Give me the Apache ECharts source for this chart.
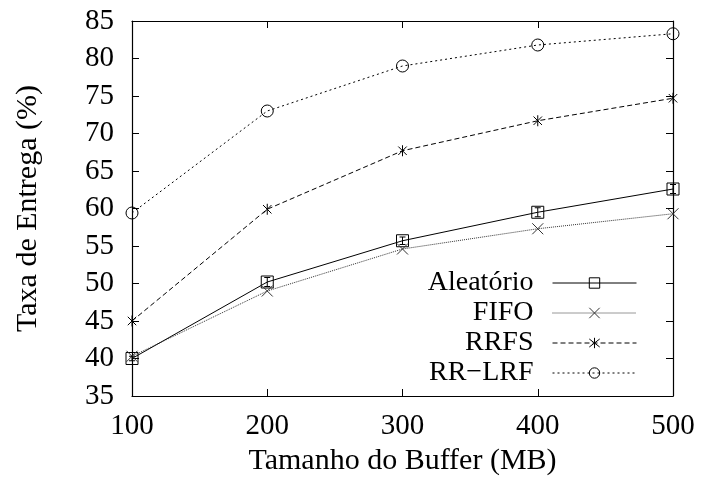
<!DOCTYPE html>
<html>
<head>
<meta charset="utf-8">
<script src="https://cdn.jsdelivr.net/npm/echarts@6/dist/echarts.min.js"></script>
<style>
  html, body { margin: 0; padding: 0; background: #fff; }
  #chart { width: 702px; height: 488px; }
</style>
</head>
<body>
<div id="chart"></div>
<script>
// Buffer sizes (MB)
const bufferSizes = [100, 200, 300, 400, 500];
// Delivery rate (%) per policy
const aleatorio = [40.0, 50.2, 55.7, 59.5, 62.6];
const aleatorioErr = [0.3, 0.6, 0.5, 0.6, 0.6];
const fifo = [40.3, 49.0, 54.6, 57.3, 59.3];
const rrfs = [45.0, 59.9, 67.7, 71.7, 74.7];
const rrlrf = [59.4, 73.0, 79.0, 81.8, 83.3];
const yTicks = [35, 85, 5];

const FONT = '"Liberation Serif", "DejaVu Serif", serif';
const crossPath = 'path://M0,0L10,10M10,0L0,10';
const starPath = 'path://M0,0L10,10M10,0L0,10M5,-1.5L5,11.5';

function pairs(vals) { return bufferSizes.map((x, i) => [x, vals[i]]); }

function lineSeries(name, vals, symbol, size, lineType, color) {
  return {
    name: name,
    type: 'line',
    data: pairs(vals),
    symbol: symbol,
    symbolSize: size,
    symbolKeepAspect: true,
    showAllSymbol: true,
    lineStyle: { color: color, width: 1, type: lineType },
    itemStyle: { color: 'none', borderColor: color, borderWidth: 1 },
    emphasis: { disabled: true },
    animation: false,
    z: 3
  };
}

const chart = echarts.init(document.getElementById('chart'), null, { renderer: 'canvas' });

const axisCommon = {
  type: 'value',
  axisLine: { show: true, lineStyle: { color: '#000', width: 1.2 } },
  axisTick: { show: true, inside: true, length: 7, lineStyle: { color: '#000', width: 1 } },
  splitLine: { show: false }
};

chart.setOption({
  backgroundColor: '#fff',
  animation: false,
  grid: { left: 132, right: 29, top: 21, bottom: 92 },
  xAxis: [
    Object.assign({}, axisCommon, {
      min: 100, max: 500, interval: 100,
      name: 'Tamanho do Buffer (MB)',
      nameLocation: 'middle',
      nameGap: 45,
      nameTextStyle: { fontFamily: FONT, fontSize: 30, color: '#000' },
      axisLabel: { fontFamily: FONT, fontSize: 29, color: '#000', margin: 16 }
    }),
    Object.assign({}, axisCommon, {
      min: 100, max: 500, interval: 100, position: 'top',
      axisLabel: { show: false }
    })
  ],
  yAxis: [
    Object.assign({}, axisCommon, {
      min: yTicks[0], max: yTicks[1], interval: yTicks[2],
      name: 'Taxa de Entrega (%)',
      nameLocation: 'middle',
      nameGap: 89,
      nameRotate: 90,
      nameTextStyle: { fontFamily: FONT, fontSize: 30, color: '#000' },
      axisLabel: { fontFamily: FONT, fontSize: 29, color: '#000', margin: 18 }
    }),
    Object.assign({}, axisCommon, {
      min: yTicks[0], max: yTicks[1], interval: yTicks[2], position: 'right',
      axisLabel: { show: false }
    })
  ],
  legend: {
    orient: 'vertical',
    align: 'right',
    right: 65,
    top: 268,
    itemWidth: 84,
    itemHeight: 13,
    itemGap: 0,
    padding: 0,
    selectedMode: false,
    lineStyle: { width: 1 },
    itemStyle: { borderWidth: 1 },
    textStyle: { fontFamily: FONT, fontSize: 28, color: '#000', lineHeight: 30, padding: [0, 14, 0, 0] },
    data: ['Aleatório', 'FIFO', 'RRFS', 'RR\u2212LRF']
  },
  series: [
    lineSeries('Aleatório', aleatorio, 'rect', 12, 'solid', '#000'),
    lineSeries('FIFO', fifo, crossPath, 11, [1, 1], '#333'),
    lineSeries('RRFS', rrfs, starPath, 11, [5, 3], '#000'),
    lineSeries('RR\u2212LRF', rrlrf, 'circle', 12, [2, 3], '#000'),
    {
      name: 'erro',
      type: 'custom',
      data: bufferSizes.map((x, i) => [x, aleatorio[i], aleatorioErr[i]]),
      renderItem: function (params, api) {
        const x = api.value(0), y = api.value(1), e = api.value(2);
        const top = api.coord([x, y + e]);
        const bot = api.coord([x, y - e]);
        const w = 3;
        return {
          type: 'group',
          children: [
            { type: 'line', shape: { x1: top[0], y1: top[1], x2: bot[0], y2: bot[1] }, style: { stroke: '#000', lineWidth: 1 } },
            { type: 'line', shape: { x1: top[0] - w, y1: top[1], x2: top[0] + w, y2: top[1] }, style: { stroke: '#000', lineWidth: 1 } },
            { type: 'line', shape: { x1: bot[0] - w, y1: bot[1], x2: bot[0] + w, y2: bot[1] }, style: { stroke: '#000', lineWidth: 1 } }
          ]
        };
      },
      animation: false,
      silent: true,
      z: 4
    }
  ]
});
</script>
</body>
</html>
